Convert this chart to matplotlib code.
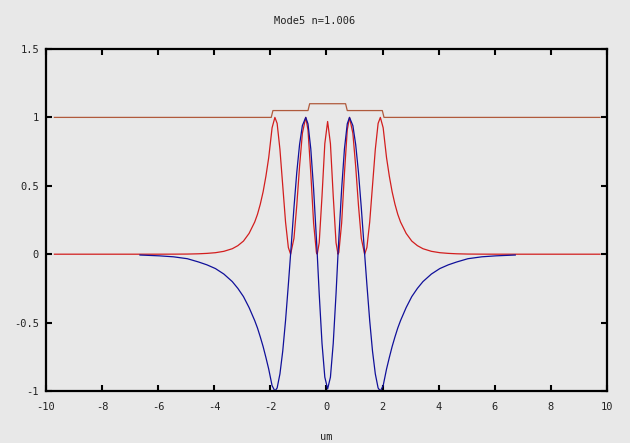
"""Mode profile plot: refractive index, field and intensity across the guide."""

import matplotlib
matplotlib.use("Agg")
import matplotlib.pyplot as plt

# Refractive index profile (step index, three layers).
index_x = [-9.7, -1.97, -1.91, -0.66, -0.60, 0.68, 0.74, 1.99, 2.05, 9.75]
index_n = [1.0, 1.0, 1.05, 1.05, 1.1, 1.1, 1.05, 1.05, 1.0, 1.0]

# Field of mode 5 (blue).
field_x = [
    -6.65, -5.96, -5.46, -4.96, -4.56, -4.26, -3.96, -3.66, -3.36, -3.16,
    -2.96, -2.76, -2.56, -2.46, -2.36, -2.26, -2.16, -2.06, -1.94, -1.84,
    -1.76, -1.66, -1.56, -1.46, -1.36, -1.28, -1.16, -1.06, -0.96, -0.86,
    -0.74, -0.66, -0.56, -0.46, -0.36, -0.33, -0.26, -0.16, -0.06, 0.04,
    0.14, 0.24, 0.34, 0.41, 0.44, 0.54, 0.64, 0.74, 0.82, 0.94,
    1.04, 1.14, 1.24, 1.36, 1.44, 1.54, 1.64, 1.74, 1.84, 1.92,
    2.02, 2.14, 2.24, 2.34, 2.44, 2.54, 2.64, 2.84, 3.04, 3.24,
    3.44, 3.74, 4.04, 4.34, 4.64, 5.04, 5.54, 6.04, 6.73,
]
field_e = [
    -0.006, -0.012, -0.019, -0.033, -0.057, -0.078, -0.105, -0.145, -0.20, -0.25,
    -0.31, -0.39, -0.485, -0.54, -0.605, -0.675, -0.755, -0.84, -0.961, -1.0,
    -0.978, -0.875, -0.708, -0.485, -0.222, 0.0, 0.341, 0.597, 0.802, 0.940,
    1.0, 0.953, 0.770, 0.477, 0.114, 0.0, -0.289, -0.652, -0.899, -0.985,
    -0.899, -0.652, -0.289, 0.0, 0.114, 0.477, 0.770, 0.953, 1.0, 0.940,
    0.802, 0.597, 0.341, 0.0, -0.222, -0.485, -0.708, -0.875, -0.978, -1.0,
    -0.961, -0.84, -0.755, -0.675, -0.605, -0.54, -0.485, -0.39, -0.31, -0.25,
    -0.20, -0.145, -0.105, -0.078, -0.057, -0.033, -0.019, -0.012, -0.006,
]

# Intensity (red), extends over the whole window.
inten_x = [-9.7] + field_x + [9.75]
inten_i = [
    0.0,
    0.0, 0.0001, 0.0004, 0.001, 0.003, 0.006, 0.011, 0.021, 0.040, 0.0625,
    0.096, 0.152, 0.235, 0.292, 0.366, 0.456, 0.570, 0.706, 0.924, 1.0,
    0.956, 0.766, 0.501, 0.235, 0.049, 0.0, 0.116, 0.356, 0.643, 0.884,
    1.0, 0.908, 0.593, 0.228, 0.013, 0.0, 0.084, 0.425, 0.808, 0.970,
    0.808, 0.425, 0.084, 0.0, 0.013, 0.228, 0.593, 0.908, 1.0, 0.884,
    0.643, 0.356, 0.116, 0.0, 0.049, 0.235, 0.501, 0.766, 0.956, 1.0,
    0.924, 0.706, 0.570, 0.456, 0.366, 0.292, 0.235, 0.152, 0.096, 0.0625,
    0.040, 0.021, 0.011, 0.006, 0.003, 0.001, 0.0004, 0.0001, 0.0,
    0.0,
]

x_ticks = [-10, -8, -6, -4, -2, 0, 2, 4, 6, 8, 10]
y_ticks = [-1, -0.5, 0, 0.5, 1, 1.5]
y_labels = ["-1", "-0.5", "0", "0.5", "1", "1.5"]

BG = "#e8e8e8"
FONT = "DejaVu Sans Mono"

fig = plt.figure(figsize=(6.30, 4.43), dpi=100, facecolor=BG)
ax = fig.add_axes([46 / 630, 52 / 443, 561 / 630, 342 / 443], facecolor=BG)

ax.plot(index_x, index_n, color="#b05a3c", lw=0.9)
ax.plot(inten_x, inten_i, color="#d21e1e", lw=0.9)
ax.plot(field_x, field_e, color="#10109a", lw=0.9)

ax.set_xlim(-10, 10)
ax.set_ylim(-1, 1.5)
ax.set_xticks(x_ticks)
ax.set_xticklabels([str(t) for t in x_ticks], family=FONT, fontsize=7.5)
ax.set_yticks(y_ticks)
ax.set_yticklabels(y_labels, family=FONT, fontsize=7.5)
ax.tick_params(direction="in", length=4, width=1.5, top=True, right=True,
               colors="black", labelcolor="#222222")
ax.tick_params(axis="x", pad=8)
ax.tick_params(axis="y", pad=5)
for sp in ax.spines.values():
    sp.set_linewidth(1.6)

ax.set_xlabel("um", family=FONT, fontsize=7.5, color="#222222", labelpad=14)
fig.text(0.5, 1 - 21 / 443, "Mode5 n=1.006", ha="center", va="center",
         family=FONT, fontsize=7.5, color="#222222")

fig.savefig("out.png", dpi=100, facecolor=BG)
